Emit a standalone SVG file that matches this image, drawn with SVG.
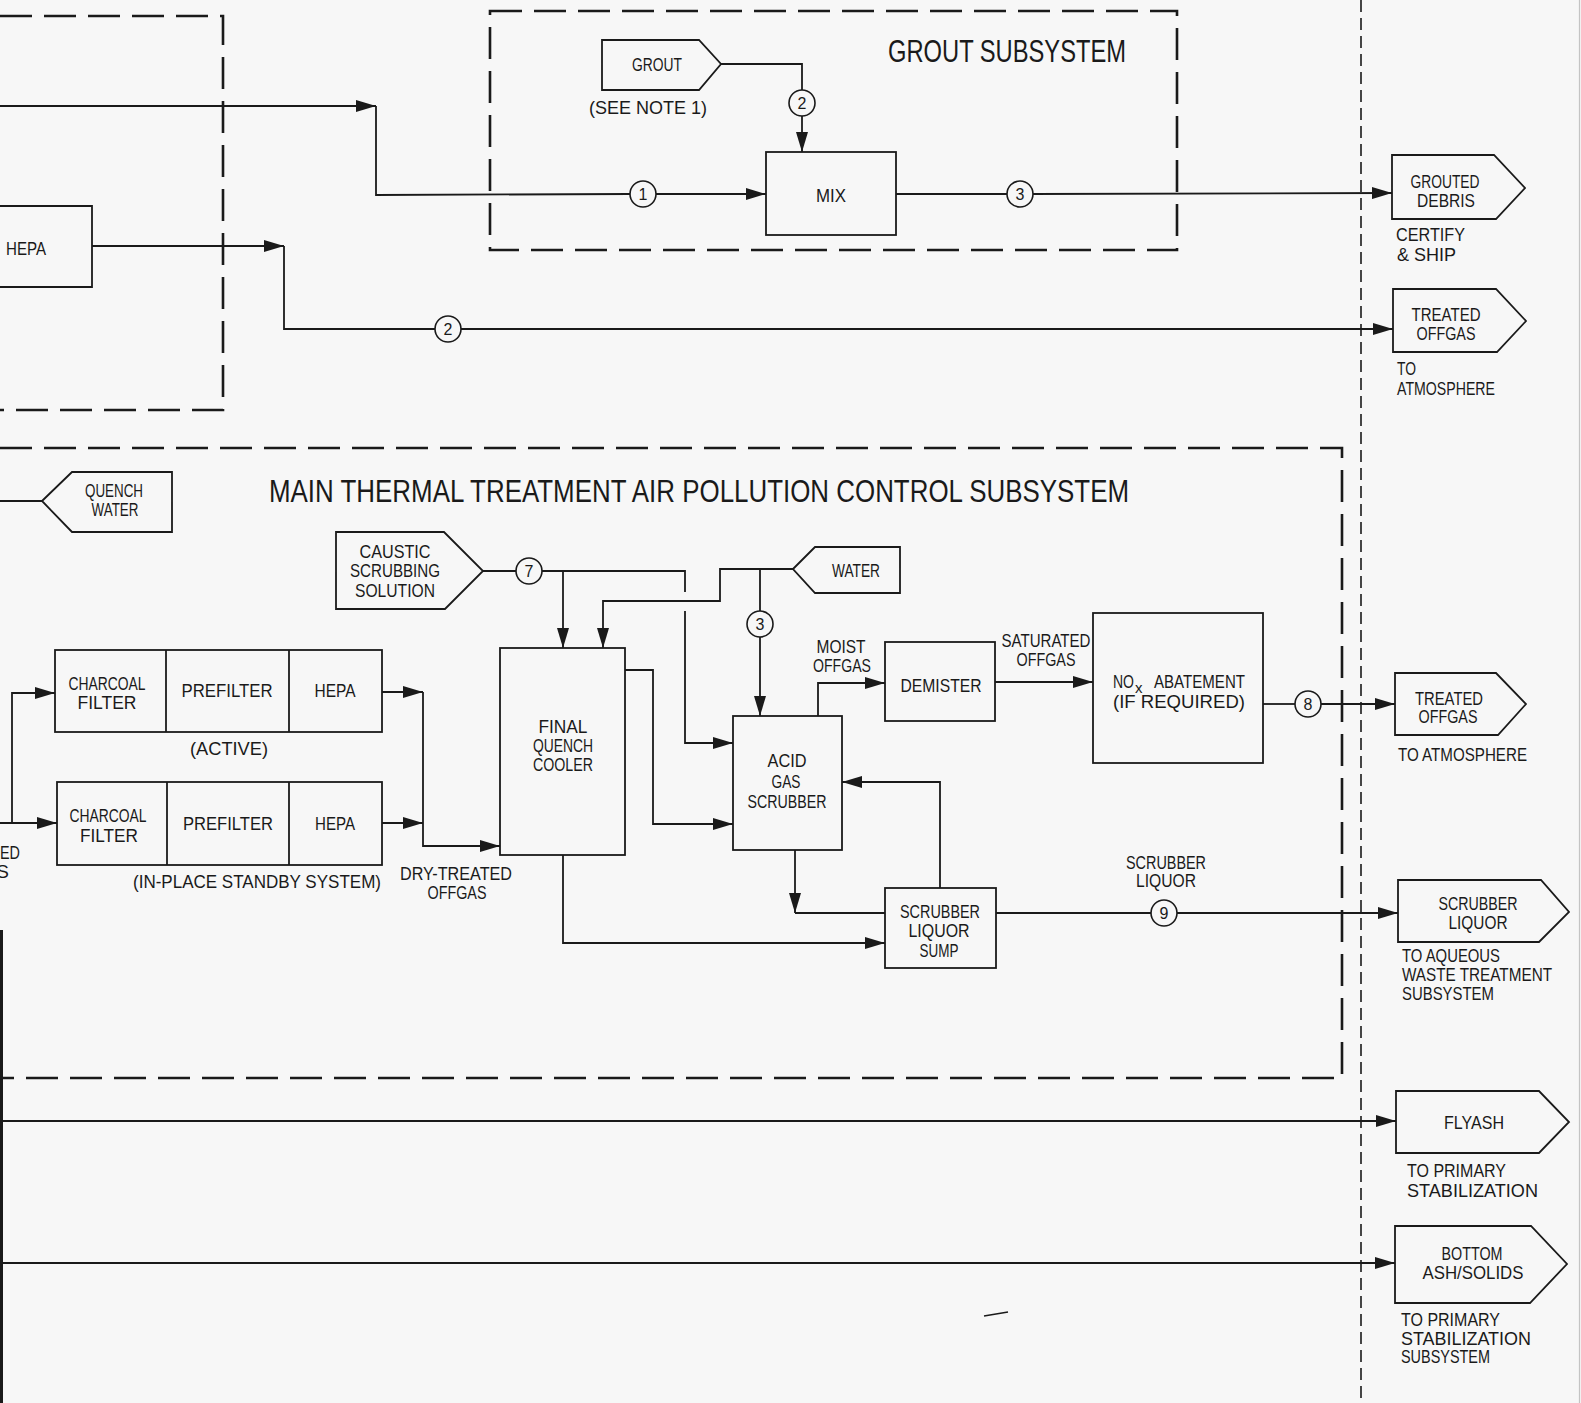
<svg xmlns="http://www.w3.org/2000/svg" width="1581" height="1403" viewBox="0 0 1581 1403">
<defs>
<marker id="arr" markerWidth="20" markerHeight="12" refX="20" refY="6" orient="auto" markerUnits="userSpaceOnUse"><path d="M0,0 L20,6 L0,12 z" fill="#1a1a1a"/></marker>
<style>
.ln{fill:none;stroke:#1a1a1a;stroke-width:1.8}
.bx{fill:none;stroke:#1a1a1a;stroke-width:1.8}
.db{fill:none;stroke:#1a1a1a;stroke-width:2.6;stroke-dasharray:32 12}
.fd{fill:none;stroke:#1a1a1a;stroke-width:1.6;stroke-dasharray:12 6}
.c{fill:#f7f7f7;stroke:#1a1a1a;stroke-width:1.6}
text{font-family:"Liberation Sans Narrow","Liberation Sans",Arial,sans-serif;font-size:19px;fill:#1a1a1a}
.m{text-anchor:middle}
.e{text-anchor:end}
.ttl{font-size:32px}
.n{font-size:16px;text-anchor:middle}
</style>
</defs>
<rect width="1581" height="1403" fill="#f7f7f7"/>
<line x1="1579.5" y1="0" x2="1579.5" y2="1403" stroke="#c4c4c4" stroke-width="1.2"/>
<rect x="0" y="930" width="3" height="473" fill="#1a1a1a"/>

<g id="boundaries">
<path class="db" d="M0,16 L223,16 L223,410 L0,410"/>
<rect id="grout-subsystem" class="db" x="490" y="11" width="687" height="239"/>
<path class="db" d="M0,448 L1342,448 L1342,1078 L0,1078"/>
<line class="fd" x1="1361" y1="0" x2="1361" y2="1403"/>
<text class="ttl" x="1007" y="62" text-anchor="middle" textLength="238" lengthAdjust="spacingAndGlyphs">GROUT SUBSYSTEM</text>
<text class="ttl" x="269" y="502" textLength="860" lengthAdjust="spacingAndGlyphs">MAIN THERMAL TREATMENT AIR POLLUTION CONTROL SUBSYSTEM</text>
</g>

<g id="connectors">
<path class="ln" d="M0,106 L376,106" marker-end="url(#arr)"/>
<path class="ln" d="M376,106 L376,195 L630,194"/>
<path class="ln" d="M656,194 L766,194" marker-end="url(#arr)"/>
<path class="ln" d="M92,246 L284,246" marker-end="url(#arr)"/>
<path class="ln" d="M284,246 L284,329 L435,329"/>
<path class="ln" d="M461,329 L1393,329" marker-end="url(#arr)"/>
<path class="ln" d="M721,64 L802,64 L802,90"/>
<path class="ln" d="M802,116 L802,152" marker-end="url(#arr)"/>
<path class="ln" d="M896,194 L1007,194"/>
<path class="ln" d="M1033,194 L1392,193" marker-end="url(#arr)"/>
<path class="ln" d="M0,501 L42,501"/>
<path class="ln" d="M483,571 L516,571"/>
<path class="ln" d="M542,571 L685,571 L685,592"/>
<path class="ln" d="M685,611 L685,743 L733,743" marker-end="url(#arr)"/>
<path class="ln" d="M563,571 L563,648" marker-end="url(#arr)"/>
<path class="ln" d="M793,569 L720,569 L720,601 L603,601 L603,648" marker-end="url(#arr)"/>
<path class="ln" d="M760,569 L760,611"/>
<path class="ln" d="M760,637 L760,716" marker-end="url(#arr)"/>
<path class="ln" d="M625,670 L653,670 L653,824 L733,824" marker-end="url(#arr)"/>
<path class="ln" d="M818,716 L818,683 L885,683" marker-end="url(#arr)"/>
<path class="ln" d="M995,682 L1093,682" marker-end="url(#arr)"/>
<path class="ln" d="M1263,704 L1295,704"/>
<path class="ln" d="M1321,704 L1395,704" marker-end="url(#arr)"/>
<path class="ln" d="M795,850 L795,913" marker-end="url(#arr)"/>
<path class="ln" d="M795,913 L885,913"/>
<path class="ln" d="M940,888 L940,782 L842,782" marker-end="url(#arr)"/>
<path class="ln" d="M563,855 L563,943 L885,943" marker-end="url(#arr)"/>
<path class="ln" d="M996,913 L1151,913"/>
<path class="ln" d="M1177,913 L1398,913" marker-end="url(#arr)"/>
<path class="ln" d="M0,823 L57,823" marker-end="url(#arr)"/>
<path class="ln" d="M12,823 L12,693 L55,693" marker-end="url(#arr)"/>
<path class="ln" d="M382,692 L423,692" marker-end="url(#arr)"/>
<path class="ln" d="M423,692 L423,846 L500,846" marker-end="url(#arr)"/>
<path class="ln" d="M382,823 L423,823" marker-end="url(#arr)"/>
<path class="ln" d="M0,1121 L1396,1121" marker-end="url(#arr)"/>
<path class="ln" d="M0,1263 L1395,1263" marker-end="url(#arr)"/>
<g id="stream-numbers">
<circle class="c" cx="643" cy="194" r="13"/><text class="n" x="643" y="200">1</text>
<circle class="c" cx="802" cy="103" r="13"/><text class="n" x="802" y="109">2</text>
<circle class="c" cx="1020" cy="194" r="13"/><text class="n" x="1020" y="200">3</text>
<circle class="c" cx="448" cy="329" r="13"/><text class="n" x="448" y="335">2</text>
<circle class="c" cx="529" cy="571" r="13"/><text class="n" x="529" y="577">7</text>
<circle class="c" cx="760" cy="624" r="13"/><text class="n" x="760" y="630">3</text>
<circle class="c" cx="1308" cy="704" r="13"/><text class="n" x="1308" y="710">8</text>
<circle class="c" cx="1164" cy="913" r="13"/><text class="n" x="1164" y="919">9</text>
</g>
<g id="stream-labels">
<text class="m" x="456" y="880" textLength="112" lengthAdjust="spacingAndGlyphs">DRY-TREATED</text>
<text class="m" x="457" y="899" textLength="59" lengthAdjust="spacingAndGlyphs">OFFGAS</text>
<text class="m" x="841" y="653" textLength="49" lengthAdjust="spacingAndGlyphs">MOIST</text>
<text class="m" x="842" y="672" textLength="58" lengthAdjust="spacingAndGlyphs">OFFGAS</text>
<text class="m" x="1046" y="647" textLength="89" lengthAdjust="spacingAndGlyphs">SATURATED</text>
<text class="m" x="1046" y="666" textLength="59" lengthAdjust="spacingAndGlyphs">OFFGAS</text>
<text class="m" x="1166" y="869" textLength="80" lengthAdjust="spacingAndGlyphs">SCRUBBER</text>
<text class="m" x="1166" y="887" textLength="60" lengthAdjust="spacingAndGlyphs">LIQUOR</text>
<text class="e" x="20" y="859" textLength="20" lengthAdjust="spacingAndGlyphs">ED</text>
<text class="e" x="9" y="878">S</text>
</g>
</g>

<g id="hepa-left">
<path class="bx" d="M0,206 L92,206 L92,287 L0,287"/>
<text class="m" x="26" y="255" textLength="40" lengthAdjust="spacingAndGlyphs">HEPA</text>
</g>
<g id="grout">
<path class="bx" d="M602,40 L699,40 L721,64 L699,90 L602,90 Z"/>
<text class="m" x="657" y="71" textLength="50" lengthAdjust="spacingAndGlyphs">GROUT</text>
<text class="m" x="648" y="114" textLength="118" lengthAdjust="spacingAndGlyphs">(SEE NOTE 1)</text>
</g>
<g id="mix">
<rect class="bx" x="766" y="152" width="130" height="83"/>
<text class="m" x="831" y="202" textLength="30" lengthAdjust="spacingAndGlyphs">MIX</text>
</g>
<g id="grouted-debris">
<path class="bx" d="M1392,155 L1494,155 L1525,188 L1496,219 L1392,219 Z"/>
<text class="m" x="1445" y="188" textLength="69" lengthAdjust="spacingAndGlyphs">GROUTED</text>
<text class="m" x="1446" y="207" textLength="58" lengthAdjust="spacingAndGlyphs">DEBRIS</text>
<text x="1396" y="241" textLength="69" lengthAdjust="spacingAndGlyphs">CERTIFY</text>
<text x="1397" y="261" textLength="59" lengthAdjust="spacingAndGlyphs">&amp; SHIP</text>
</g>
<g id="treated-offgas-1">
<path class="bx" d="M1393,289 L1496,289 L1526,321 L1497,352 L1393,352 Z"/>
<text class="m" x="1446" y="321" textLength="69" lengthAdjust="spacingAndGlyphs">TREATED</text>
<text class="m" x="1446" y="340" textLength="59" lengthAdjust="spacingAndGlyphs">OFFGAS</text>
<text x="1397" y="375" textLength="19" lengthAdjust="spacingAndGlyphs">TO</text>
<text x="1397" y="395" textLength="98" lengthAdjust="spacingAndGlyphs">ATMOSPHERE</text>
</g>
<g id="quench-water">
<path class="bx" d="M42,501 L72,472 L172,472 L172,532 L72,532 Z"/>
<text class="m" x="114" y="497" textLength="58" lengthAdjust="spacingAndGlyphs">QUENCH</text>
<text class="m" x="115" y="516" textLength="47" lengthAdjust="spacingAndGlyphs">WATER</text>
</g>
<g id="caustic">
<path class="bx" d="M336,532 L444,532 L483,571 L445,609 L336,609 Z"/>
<text class="m" x="395" y="558" textLength="71" lengthAdjust="spacingAndGlyphs">CAUSTIC</text>
<text class="m" x="395" y="577" textLength="90" lengthAdjust="spacingAndGlyphs">SCRUBBING</text>
<text class="m" x="395" y="597" textLength="80" lengthAdjust="spacingAndGlyphs">SOLUTION</text>
</g>
<g id="filter-active">
<rect class="bx" x="55" y="650" width="327" height="82"/>
<line class="bx" x1="166" y1="650" x2="166" y2="732"/>
<line class="bx" x1="289" y1="650" x2="289" y2="732"/>
<text class="m" x="107" y="690" textLength="77" lengthAdjust="spacingAndGlyphs">CHARCOAL</text>
<text class="m" x="107" y="709" textLength="59" lengthAdjust="spacingAndGlyphs">FILTER</text>
<text class="m" x="227" y="697" textLength="91" lengthAdjust="spacingAndGlyphs">PREFILTER</text>
<text class="m" x="335" y="697" textLength="41" lengthAdjust="spacingAndGlyphs">HEPA</text>
<text class="m" x="229" y="755" textLength="78" lengthAdjust="spacingAndGlyphs">(ACTIVE)</text>
</g>
<g id="filter-standby">
<rect class="bx" x="57" y="782" width="325" height="83"/>
<line class="bx" x1="167" y1="782" x2="167" y2="865"/>
<line class="bx" x1="289" y1="782" x2="289" y2="865"/>
<text class="m" x="108" y="822" textLength="77" lengthAdjust="spacingAndGlyphs">CHARCOAL</text>
<text class="m" x="109" y="842" textLength="58" lengthAdjust="spacingAndGlyphs">FILTER</text>
<text class="m" x="228" y="830" textLength="90" lengthAdjust="spacingAndGlyphs">PREFILTER</text>
<text class="m" x="335" y="830" textLength="40" lengthAdjust="spacingAndGlyphs">HEPA</text>
<text class="m" x="257" y="888" textLength="248" lengthAdjust="spacingAndGlyphs">(IN-PLACE STANDBY SYSTEM)</text>
</g>
<g id="final-quench-cooler">
<rect class="bx" x="500" y="648" width="125" height="207"/>
<text class="m" x="563" y="733" textLength="49" lengthAdjust="spacingAndGlyphs">FINAL</text>
<text class="m" x="563" y="752" textLength="60" lengthAdjust="spacingAndGlyphs">QUENCH</text>
<text class="m" x="563" y="771" textLength="60" lengthAdjust="spacingAndGlyphs">COOLER</text>
</g>
<g id="water">
<path class="bx" d="M793,569 L815,547 L900,547 L900,593 L815,593 Z"/>
<text class="m" x="856" y="577" textLength="48" lengthAdjust="spacingAndGlyphs">WATER</text>
</g>
<g id="acid-gas-scrubber">
<rect class="bx" x="733" y="716" width="109" height="134"/>
<text class="m" x="787" y="767" textLength="39" lengthAdjust="spacingAndGlyphs">ACID</text>
<text class="m" x="786" y="788" textLength="29" lengthAdjust="spacingAndGlyphs">GAS</text>
<text class="m" x="787" y="808" textLength="79" lengthAdjust="spacingAndGlyphs">SCRUBBER</text>
</g>
<g id="demister">
<rect class="bx" x="885" y="642" width="110" height="79"/>
<text class="m" x="941" y="692" textLength="81" lengthAdjust="spacingAndGlyphs">DEMISTER</text>
</g>
<g id="scrubber-liquor-sump">
<rect class="bx" x="885" y="888" width="111" height="80"/>
<text class="m" x="940" y="918" textLength="80" lengthAdjust="spacingAndGlyphs">SCRUBBER</text>
<text class="m" x="939" y="937" textLength="61" lengthAdjust="spacingAndGlyphs">LIQUOR</text>
<text class="m" x="939" y="957" textLength="39" lengthAdjust="spacingAndGlyphs">SUMP</text>
</g>
<g id="nox-abatement">
<rect class="bx" x="1093" y="613" width="170" height="150"/>
<text y="688"><tspan x="1113" textLength="21" lengthAdjust="spacingAndGlyphs">NO</tspan><tspan x="1135" y="693" font-size="15">x </tspan><tspan x="1154" y="688" textLength="91" lengthAdjust="spacingAndGlyphs">ABATEMENT</tspan></text>
<text x="1113" y="708" textLength="132" lengthAdjust="spacingAndGlyphs">(IF REQUIRED)</text>
</g>
<g id="treated-offgas-2">
<path class="bx" d="M1395,673 L1496,673 L1526,704 L1498,735 L1395,735 Z"/>
<text class="m" x="1449" y="705" textLength="68" lengthAdjust="spacingAndGlyphs">TREATED</text>
<text class="m" x="1448" y="723" textLength="59" lengthAdjust="spacingAndGlyphs">OFFGAS</text>
<text x="1398" y="761" textLength="129" lengthAdjust="spacingAndGlyphs">TO ATMOSPHERE</text>
</g>
<g id="scrubber-liquor-out">
<path class="bx" d="M1398,880 L1541,880 L1569,912 L1539,942 L1398,942 Z"/>
<text class="m" x="1478" y="910" textLength="79" lengthAdjust="spacingAndGlyphs">SCRUBBER</text>
<text class="m" x="1478" y="929" textLength="59" lengthAdjust="spacingAndGlyphs">LIQUOR</text>
<text x="1402" y="962" textLength="98" lengthAdjust="spacingAndGlyphs">TO AQUEOUS</text>
<text x="1402" y="981" textLength="150" lengthAdjust="spacingAndGlyphs">WASTE TREATMENT</text>
<text x="1402" y="1000" textLength="92" lengthAdjust="spacingAndGlyphs">SUBSYSTEM</text>
</g>
<g id="flyash">
<path class="bx" d="M1396,1091 L1539,1091 L1569,1122 L1539,1153 L1396,1153 Z"/>
<text class="m" x="1474" y="1129" textLength="60" lengthAdjust="spacingAndGlyphs">FLYASH</text>
<text x="1407" y="1177" textLength="99" lengthAdjust="spacingAndGlyphs">TO PRIMARY</text>
<text x="1407" y="1197" textLength="131" lengthAdjust="spacingAndGlyphs">STABILIZATION</text>
</g>
<g id="bottom-ash">
<path class="bx" d="M1395,1226 L1531,1226 L1567,1264 L1530,1303 L1395,1303 Z"/>
<text class="m" x="1472" y="1260" textLength="61" lengthAdjust="spacingAndGlyphs">BOTTOM</text>
<text class="m" x="1473" y="1279" textLength="101" lengthAdjust="spacingAndGlyphs">ASH/SOLIDS</text>
<text x="1401" y="1326" textLength="99" lengthAdjust="spacingAndGlyphs">TO PRIMARY</text>
<text x="1401" y="1345" textLength="130" lengthAdjust="spacingAndGlyphs">STABILIZATION</text>
<text x="1401" y="1363" textLength="89" lengthAdjust="spacingAndGlyphs">SUBSYSTEM</text>
</g>
<path d="M984,1316 L1008,1312" stroke="#1a1a1a" stroke-width="1.5"/>
</svg>
